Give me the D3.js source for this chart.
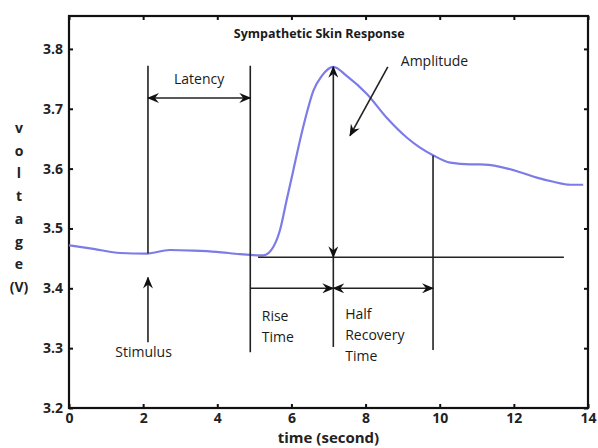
<!DOCTYPE html>
<html lang="en">
  <head>
    <meta charset="utf-8" />
    <style>
      body { margin: 0; background: #fff; }
      svg { font-family: "Open Sans", sans-serif; }
      .axis text { font-family: "Open Sans", sans-serif; font-size: 14px; font-weight: 700; fill: #222; }
      .axis path, .axis line { stroke: #111; }
      .note { font-size: 14px; font-weight: 500; fill: #1a1a1a; }
    </style>
  </head>
  <body>
    <svg id="chart" width="598" height="448"></svg>
    <script src="https://d3js.org/d3.v7.min.js"></script>
    <script>
      // skin response trace
      const time = [0, 0.66, 1.38, 2.1, 2.72, 3.35, 3.98, 4.61, 5.15, 5.24, 5.51, 5.69, 5.87,
        6.05, 6.23, 6.41, 6.59, 6.82, 7.13, 7.49, 8.03, 8.57, 9.11, 9.47, 9.83, 10.28,
        10.82, 11.09, 11.63, 12.17, 12.62, 13.07, 13.52, 13.87];
      const voltage = [3.472, 3.466, 3.459, 3.458, 3.464, 3.463, 3.461, 3.457, 3.455, 3.455,
        3.469, 3.497, 3.547, 3.597, 3.647, 3.692, 3.73, 3.755, 3.77, 3.755, 3.725, 3.685,
        3.652, 3.635, 3.622, 3.61, 3.607, 3.607, 3.603, 3.594, 3.585, 3.578, 3.573, 3.573];

      const xTicks = [0, 2, 4, 6, 8, 10, 12, 14];
      const yTicks = [3.2, 3.3, 3.4, 3.5, 3.6, 3.7, 3.8];
      const yLabelChars = ["v", "o", "l", "t", "a", "g", "e", "(V)"];

      // annotation landmarks (seconds / volts)
      const stimulusT = 2.13;
      const responseT = 4.89;
      const peakT = 7.13;
      const peakV = 3.77;
      const halfT = 9.82;
      const halfV = 3.622;
      const baselineV = 3.452;

      const margin = { top: 16, right: 10, bottom: 40, left: 69 };
      const width = 598 - margin.left - margin.right;
      const height = 448 - margin.top - margin.bottom;

      const x = d3.scaleLinear().domain([0, 14]).range([0, width]);
      const y = d3.scaleLinear().domain([3.2, 3.855]).range([height, 0]);

      const svg = d3.select("#chart");
      const g = svg.append("g").attr("transform", `translate(${margin.left},${margin.top})`);

      const defs = svg.append("defs");
      defs.append("marker")
        .attr("id", "head")
        .attr("viewBox", "0 -5 12 10")
        .attr("refX", 11)
        .attr("refY", 0)
        .attr("markerWidth", 12)
        .attr("markerHeight", 10)
        .attr("markerUnits", "userSpaceOnUse")
        .attr("orient", "auto-start-reverse")
        .append("path")
        .attr("d", "M0,-5 L12,0 L0,5 L4,0 Z")
        .attr("fill", "#111");

      // axes, ticks pointing inward
      g.append("g").attr("class", "axis")
        .attr("transform", `translate(0,${height})`)
        .call(d3.axisBottom(x).tickValues(xTicks).tickSizeInner(-4).tickSizeOuter(0).tickPadding(5))
        .call(a => a.select(".domain").remove());
      g.append("g").attr("class", "axis")
        .call(d3.axisLeft(y).tickValues(yTicks).tickSizeInner(-4).tickSizeOuter(0).tickPadding(6)
          .tickFormat(d3.format(".1f")))
        .call(a => a.select(".domain").remove());
      g.append("g").attr("class", "axis")
        .call(d3.axisTop(x).tickValues(xTicks).tickSizeInner(-4).tickSizeOuter(0).tickFormat(""))
        .call(a => a.select(".domain").remove());
      g.append("g").attr("class", "axis")
        .attr("transform", `translate(${width},0)`)
        .call(d3.axisRight(y).tickValues(yTicks).tickSizeInner(-4).tickSizeOuter(0).tickFormat(""))
        .call(a => a.select(".domain").remove());
      g.selectAll(".axis").attr("font-family", null).attr("font-size", null);
      g.selectAll(".axis .tick line").attr("stroke-width", 2);

      g.append("rect")
        .attr("width", width)
        .attr("height", height)
        .attr("fill", "none")
        .attr("stroke", "#111")
        .attr("stroke-width", 2.2);

      // trace
      const line = d3.line()
        .x((d, i) => x(time[i]))
        .y(d => y(d))
        .curve(d3.curveMonotoneX);
      g.append("path")
        .datum(voltage)
        .attr("d", line)
        .attr("fill", "none")
        .attr("stroke", "#7c7ce8")
        .attr("stroke-width", 2.2);

      // annotation lines
      const seg = (t1, v1, t2, v2, a1, a2) => {
        const l = g.append("line")
          .attr("x1", x(t1)).attr("y1", y(v1))
          .attr("x2", x(t2)).attr("y2", y(v2))
          .attr("stroke", "#222")
          .attr("stroke-width", 1.6);
        if (a1) l.attr("marker-start", "url(#head)");
        if (a2) l.attr("marker-end", "url(#head)");
      };

      seg(stimulusT, 3.772, stimulusT, 3.458);
      seg(stimulusT, 3.31, stimulusT, 3.418, false, true);
      seg(responseT, 3.772, responseT, 3.293);
      seg(stimulusT, 3.718, responseT, 3.718, true, true);
      seg(5.1, baselineV, 13.35, baselineV);
      seg(peakT, 3.302, peakT, baselineV);
      seg(peakT, baselineV, peakT, peakV, true, true);
      seg(halfT, halfV, halfT, 3.297);
      seg(responseT, 3.4, peakT, 3.4, false, true);
      seg(peakT, 3.4, halfT, 3.4, true, true);
      seg(8.6, 3.77, 7.58, 3.655, false, true);

      // texts
      const note = (t, v, s, anchor, cls) => g.append("text")
        .attr("class", cls || "note")
        .attr("x", x(t)).attr("y", y(v))
        .attr("text-anchor", anchor || "start")
        .text(s);

      note(6.75, 3.818, "Sympathetic Skin Response", "middle").style("font-weight", 700).style("font-size", "12.5px");
      note(3.51, 3.742, "Latency", "middle");
      note(8.95, 3.772, "Amplitude");
      note(1.25, 3.285, "Stimulus");
      note(5.2, 3.345, "Rise");
      note(5.2, 3.311, "Time");
      note(7.45, 3.348, "Half");
      note(7.45, 3.313, "Recovery");
      note(7.45, 3.278, "Time");

      svg.append("text")
        .attr("x", margin.left + x(7))
        .attr("y", 443)
        .attr("text-anchor", "middle")
        .style("font-size", "15px")
        .style("font-weight", 700)
        .attr("fill", "#222")
        .text("time (second)");

      svg.append("g")
        .selectAll("text")
        .data(yLabelChars)
        .join("text")
        .attr("x", 19)
        .attr("y", (d, i) => 133 + i * 22.7)
        .attr("text-anchor", "middle")
        .style("font-size", "14px")
        .style("font-weight", 700)
        .attr("fill", "#222")
        .text(d => d);
    </script>
  </body>
</html>
